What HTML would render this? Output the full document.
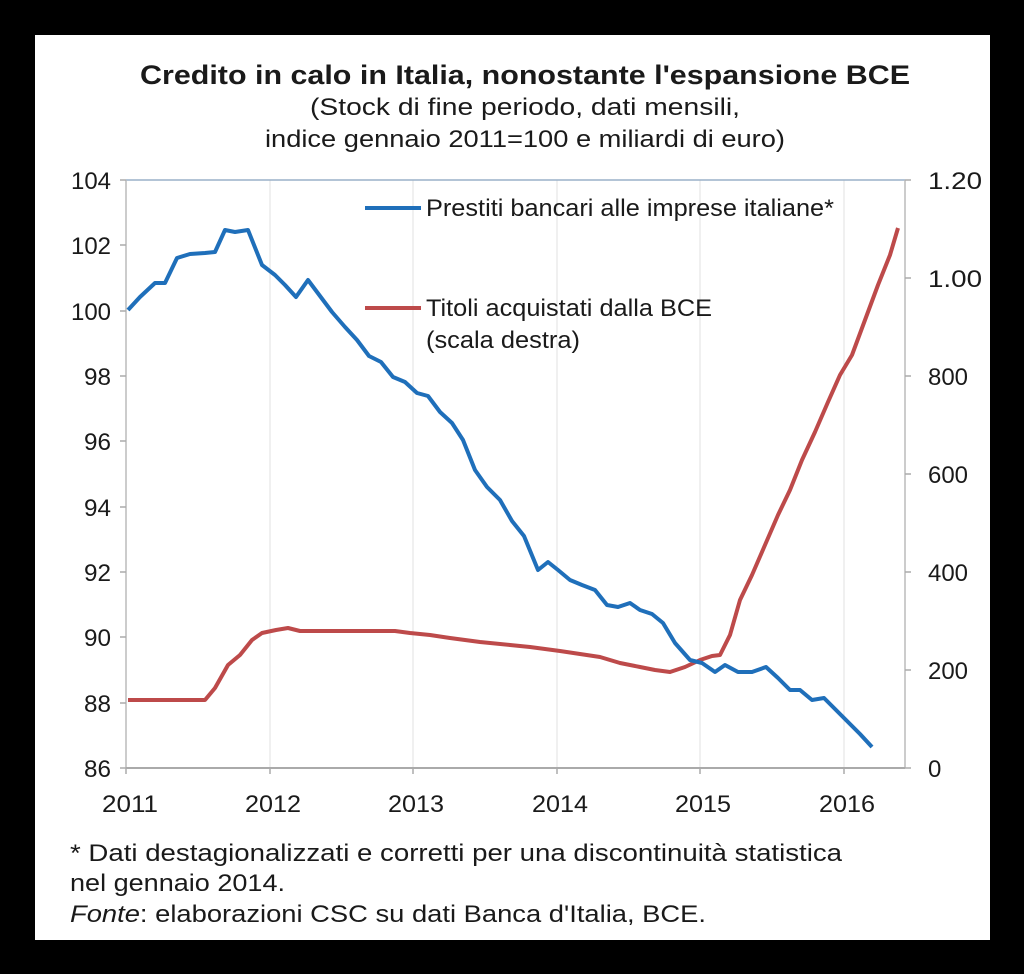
<!DOCTYPE html>
<html><head><meta charset="utf-8"><style>
html,body{margin:0;padding:0;background:#000;width:1024px;height:974px;overflow:hidden}
svg{display:block}
text{font-family:"Liberation Sans",Arial,sans-serif;fill:#1a1a1a}
</style></head><body>
<svg width="1024" height="974" viewBox="0 0 1024 974">
<defs><clipPath id="pc"><rect x="35" y="35" width="947" height="905"/></clipPath></defs>
<rect x="0" y="0" width="1024" height="974" fill="#000"/>
<rect x="35" y="35" width="955" height="905" fill="#fff"/>
<g clip-path="url(#pc)">
<text x="525" y="84" font-size="27" font-weight="bold" text-anchor="middle" textLength="770" lengthAdjust="spacingAndGlyphs">Credito in calo in Italia, nonostante l'espansione BCE</text>
<text x="525" y="115" font-size="24" text-anchor="middle" textLength="430" lengthAdjust="spacingAndGlyphs">(Stock di fine periodo, dati mensili,</text>
<text x="525" y="147" font-size="24" text-anchor="middle" textLength="520" lengthAdjust="spacingAndGlyphs">indice gennaio 2011=100  e miliardi di euro)</text>
<g stroke="#e0e0e0" stroke-width="1">
<line x1="270" y1="180" x2="270" y2="768"/><line x1="413" y1="180" x2="413" y2="768"/>
<line x1="557" y1="180" x2="557" y2="768"/><line x1="700" y1="180" x2="700" y2="768"/>
<line x1="844" y1="180" x2="844" y2="768"/>
</g>
<line x1="126" y1="180" x2="905" y2="180" stroke="#9ab0c8" stroke-width="1.5"/>
<line x1="126" y1="180" x2="126" y2="768" stroke="#bbb" stroke-width="1.5"/>
<line x1="905" y1="180" x2="905" y2="768" stroke="#bbb" stroke-width="1.5"/>
<line x1="126" y1="768" x2="905" y2="768" stroke="#aaa" stroke-width="2"/>
<g stroke="#aaa" stroke-width="1.5">
<line x1="120" y1="180" x2="126" y2="180"/><line x1="120" y1="245" x2="126" y2="245"/><line x1="120" y1="311" x2="126" y2="311"/><line x1="120" y1="376" x2="126" y2="376"/><line x1="120" y1="441" x2="126" y2="441"/><line x1="120" y1="507" x2="126" y2="507"/><line x1="120" y1="572" x2="126" y2="572"/><line x1="120" y1="637" x2="126" y2="637"/><line x1="120" y1="703" x2="126" y2="703"/><line x1="120" y1="768" x2="126" y2="768"/>
<line x1="905" y1="180" x2="911" y2="180"/><line x1="905" y1="278" x2="911" y2="278"/><line x1="905" y1="376" x2="911" y2="376"/><line x1="905" y1="474" x2="911" y2="474"/><line x1="905" y1="572" x2="911" y2="572"/><line x1="905" y1="670" x2="911" y2="670"/><line x1="905" y1="768" x2="911" y2="768"/>
<line x1="126" y1="768" x2="126" y2="774"/><line x1="270" y1="768" x2="270" y2="774"/><line x1="413" y1="768" x2="413" y2="774"/><line x1="557" y1="768" x2="557" y2="774"/><line x1="700" y1="768" x2="700" y2="774"/><line x1="844" y1="768" x2="844" y2="774"/>
</g>
<g font-size="24" text-anchor="end">
<text x="111" y="189" textLength="40" lengthAdjust="spacingAndGlyphs">104</text><text x="111" y="254" textLength="40" lengthAdjust="spacingAndGlyphs">102</text><text x="111" y="320" textLength="40" lengthAdjust="spacingAndGlyphs">100</text><text x="111" y="385" textLength="27" lengthAdjust="spacingAndGlyphs">98</text><text x="111" y="450" textLength="27" lengthAdjust="spacingAndGlyphs">96</text><text x="111" y="516" textLength="27" lengthAdjust="spacingAndGlyphs">94</text><text x="111" y="581" textLength="27" lengthAdjust="spacingAndGlyphs">92</text><text x="111" y="646" textLength="27" lengthAdjust="spacingAndGlyphs">90</text><text x="111" y="712" textLength="27" lengthAdjust="spacingAndGlyphs">88</text><text x="111" y="777" textLength="27" lengthAdjust="spacingAndGlyphs">86</text>
</g>
<g font-size="24">
<text x="928" y="189" textLength="54" lengthAdjust="spacingAndGlyphs">1.20</text><text x="928" y="287" textLength="54" lengthAdjust="spacingAndGlyphs">1.00</text><text x="928" y="385" textLength="40" lengthAdjust="spacingAndGlyphs">800</text><text x="928" y="483" textLength="40" lengthAdjust="spacingAndGlyphs">600</text><text x="928" y="581" textLength="40" lengthAdjust="spacingAndGlyphs">400</text><text x="928" y="679" textLength="40" lengthAdjust="spacingAndGlyphs">200</text><text x="928" y="777">0</text>
</g>
<g font-size="24" text-anchor="middle">
<text x="130" y="812" textLength="56" lengthAdjust="spacingAndGlyphs">2011</text><text x="273" y="812" textLength="56" lengthAdjust="spacingAndGlyphs">2012</text><text x="416" y="812" textLength="56" lengthAdjust="spacingAndGlyphs">2013</text><text x="560" y="812" textLength="56" lengthAdjust="spacingAndGlyphs">2014</text><text x="703" y="812" textLength="56" lengthAdjust="spacingAndGlyphs">2015</text><text x="847" y="812" textLength="56" lengthAdjust="spacingAndGlyphs">2016</text>
</g>
<polyline fill="none" stroke="#bd4a4a" stroke-width="4" stroke-linejoin="round" points="128,700 205,700 215,688 228,665 240,655 252,640 262,633 276,630 288,628 300,631 395,631 410,633 430,635 450,638 480,642 510,645 530,647 560,651 580,654 600,657 620,663 640,667 655,670 670,672 685,667 700,660 712,656 720,655 730,635 740,600 752,575 765,545 778,515 790,490 802,460 815,432 828,402 840,375 852,355 865,320 878,285 890,255 898,228"/>
<polyline fill="none" stroke="#1f6fba" stroke-width="4" stroke-linejoin="round" points="128,310 140,297 155,283 165,283 177,258 190,254 205,253 215,252 225,230 235,232 248,230 262,265 275,275 285,285 296,297 308,280 320,296 332,312 345,327 357,340 369,356 381,362 393,377 405,382 417,393 428,396 440,412 452,423 463,440 475,470 487,487 500,500 512,521 524,536 538,570 548,562 558,570 570,580 582,585 595,590 607,605 618,607 630,603 640,610 652,614 663,623 675,643 690,660 702,663 715,672 725,665 738,672 752,672 766,667 778,678 790,690 800,690 812,700 824,698 836,710 848,722 860,734 872,747"/>
<line x1="365" y1="208" x2="421" y2="208" stroke="#1f6fba" stroke-width="4"/>
<text x="426" y="216" font-size="24" textLength="408" lengthAdjust="spacingAndGlyphs">Prestiti bancari alle imprese italiane*</text>
<line x1="365" y1="308" x2="421" y2="308" stroke="#bd4a4a" stroke-width="4"/>
<text x="426" y="316" font-size="24" textLength="286" lengthAdjust="spacingAndGlyphs">Titoli acquistati dalla BCE</text>
<text x="426" y="348" font-size="24" textLength="154" lengthAdjust="spacingAndGlyphs">(scala destra)</text>
<text x="70" y="861" font-size="24" textLength="772" lengthAdjust="spacingAndGlyphs">* Dati destagionalizzati  e corretti per una  discontinuità statistica</text>
<text x="70" y="891" font-size="24" textLength="215" lengthAdjust="spacingAndGlyphs">nel gennaio  2014.</text>
<text x="70" y="922" font-size="24" textLength="636" lengthAdjust="spacingAndGlyphs"><tspan font-style="italic">Fonte</tspan>: elaborazioni CSC su dati Banca d'Italia, BCE.</text>
</g>
</svg>
</body></html>
